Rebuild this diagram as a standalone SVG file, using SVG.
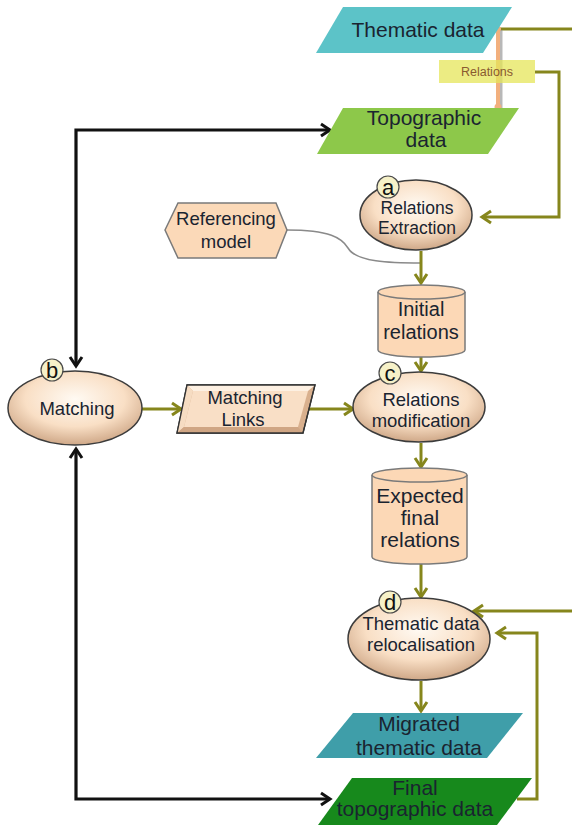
<svg xmlns="http://www.w3.org/2000/svg" width="572" height="825" viewBox="0 0 572 825">
<style>
text{font-family:"Liberation Sans",Arial,sans-serif;text-anchor:middle;fill:#1a2430}
.p{font-size:21px}
.e{font-size:18.5px}
.cy{font-size:21px}
.ol{fill:none;stroke:#86861c;stroke-width:3}
.bk{fill:none;stroke:#111;stroke-width:3.2}
.ell{fill:url(#eg);stroke:#3c3c3c;stroke-width:1.5}
.cyl{fill:#fcd8b6;stroke:#7a7a7a;stroke-width:1.5}
.bdg{fill:#f6f1c8;stroke:#4a4a4a;stroke-width:1.2}
.bt{font-size:22px;fill:#111}
</style>
<defs>
<radialGradient id="eg" cx="50%" cy="38%" r="62%">
<stop offset="0" stop-color="#fffaf3"/>
<stop offset="0.6" stop-color="#f9dfc5"/>
<stop offset="1" stop-color="#cfa888"/>
</radialGradient>
<marker id="ao" markerUnits="userSpaceOnUse" markerWidth="16" markerHeight="16" viewBox="0 0 16 16" refX="13" refY="8" orient="auto">
<path d="M4,2 L13,8 L4,14" fill="none" stroke="#86861c" stroke-width="3"/>
</marker>
<marker id="ab" markerUnits="userSpaceOnUse" markerWidth="16" markerHeight="16" viewBox="0 0 16 16" refX="13" refY="8" orient="auto-start-reverse">
<path d="M4,2 L13,8 L4,14" fill="none" stroke="#111" stroke-width="3"/>
</marker>
</defs>

<g id="connectors">
<path class="bk" d="M330,130 H76 V366" marker-start="url(#ab)" marker-end="url(#ab)"/>
<path class="bk" d="M76,449 V799 H330" marker-start="url(#ab)" marker-end="url(#ab)"/>
<path class="ol" d="M497,29 H572"/>
<path class="ol" d="M535,72 H559 V217 H482" marker-end="url(#ao)"/>
<path d="M287,230 C330,230 342,238 348,248 C356,262 390,263 421,263" fill="none" stroke="#8a8a8a" stroke-width="1.5"/>
<path class="ol" d="M421,251 V283" marker-end="url(#ao)"/>
<path class="ol" d="M421,352 V371" marker-end="url(#ao)"/>
<path class="ol" d="M142,409 H181" marker-end="url(#ao)"/>
<path class="ol" d="M308,409 H353" marker-end="url(#ao)"/>
<path class="ol" d="M421,443 V467" marker-end="url(#ao)"/>
<path class="ol" d="M421,558 V597" marker-end="url(#ao)"/>
<path class="ol" d="M572,611 H474" marker-end="url(#ao)"/>
<path class="ol" d="M517,799 H537 V633 H497" marker-end="url(#ao)"/>
<path class="ol" d="M421,681 V711" marker-end="url(#ao)"/>
<path d="M501,30 V108" stroke="#8a8a8a" stroke-width="3" opacity="0.6"/>
<path d="M498,29 V107" stroke="#f2b07e" stroke-width="4"/>
<circle cx="498" cy="29" r="3" fill="#f2b07e"/>
<circle cx="498" cy="107" r="3.5" fill="#f2b07e"/>
</g>

<g id="thematic">
<polygon points="343,7 512,7 483,53 316,53" fill="#5cc3c8"/>
<text class="p" x="418" y="37">Thematic data</text>
</g>

<g id="relations-label">
<rect x="439" y="60" width="96" height="23" fill="#e6e65a" opacity="0.75"/>
<text x="487" y="76" style="font-size:12.5px;fill:#8a5a30">Relations</text>
</g>

<g id="topographic">
<polygon points="343,108 519,108 488,154 317,154" fill="#8dc84a"/>
<text class="p" x="424" y="125">Topographic</text>
<text class="p" x="426" y="147">data</text>
</g>

<g id="referencing">
<polygon points="165,230 178,203 276,203 287,230 276,258 178,258" fill="#fbd9b8" stroke="#7a7a7a" stroke-width="1.5"/>
<text class="e" x="226" y="225">Referencing</text>
<text class="e" x="226" y="248">model</text>
</g>

<g id="extraction">
<ellipse class="ell" cx="416" cy="215" rx="56" ry="35"/>
<text x="417" y="214" style="font-size:17.5px">Relations</text>
<text x="417" y="234" style="font-size:17.5px">Extraction</text>
<circle class="bdg" cx="388" cy="187" r="11"/>
<text class="bt" x="388" y="195">a</text>
</g>

<g id="initial">
<path class="cyl" d="M378,292 A43.5,7 0 0 1 465,292 V350 A43.5,7 0 0 1 378,350 Z"/>
<path d="M378,292 A43.5,7 0 0 0 465,292" fill="none" stroke="#7a7a7a" stroke-width="1.5"/>
<text x="421" y="316" style="font-size:20px">Initial</text>
<text x="421" y="339" style="font-size:20px">relations</text>
</g>

<g id="matching">
<ellipse class="ell" cx="75" cy="408" rx="67" ry="37"/>
<text class="e" x="77" y="415">Matching</text>
<circle class="bdg" cx="52" cy="370" r="11"/>
<text class="bt" x="52" y="378">b</text>
</g>

<g id="matching-links">
<polygon points="187,385 315,385 303,433 177,433" fill="#d9b08e" stroke="#333" stroke-width="1.3"/>
<polygon points="187,385 315,385 308,391 193,391" fill="#fdf0e2"/>
<polygon points="187,385 193,391 184,427 177,433" fill="#f6dcc2"/>
<polygon points="303,433 177,433 184,427 298,427" fill="#d0a684"/>
<polygon points="193,391 308,391 298,427 184,427" fill="#f9dfc6"/>
<polygon points="187,385 315,385 303,433 177,433" fill="none" stroke="#333" stroke-width="1.3"/>
<text class="e" x="245" y="404">Matching</text>
<text class="e" x="243" y="426">Links</text>
</g>

<g id="modification">
<ellipse class="ell" cx="419" cy="407" rx="66" ry="35"/>
<text class="e" x="421" y="406">Relations</text>
<text class="e" x="421" y="427">modification</text>
<circle class="bdg" cx="390" cy="373" r="11"/>
<text class="bt" x="390" y="381">c</text>
</g>

<g id="expected">
<path class="cyl" d="M372,475 A47.5,7 0 0 1 467,475 V557 A47.5,7 0 0 1 372,557 Z"/>
<path d="M372,475 A47.5,7 0 0 0 467,475" fill="none" stroke="#7a7a7a" stroke-width="1.5"/>
<text class="cy" x="420" y="503">Expected</text>
<text class="cy" x="420" y="525">final</text>
<text class="cy" x="420" y="547">relations</text>
</g>

<g id="relocalisation">
<ellipse class="ell" cx="419" cy="639" rx="71" ry="41"/>
<text class="e" x="421" y="630">Thematic data</text>
<text class="e" x="421" y="651">relocalisation</text>
<circle class="bdg" cx="390" cy="602" r="11"/>
<text class="bt" x="390" y="610">d</text>
</g>

<g id="migrated">
<polygon points="353,713 523,713 487,758 316,758" fill="#3f9ea9"/>
<text class="p" x="419" y="731">Migrated</text>
<text class="p" x="419" y="755">thematic data</text>
</g>

<g id="final">
<polygon points="352,778 532,778 497,825 318,825" fill="#17891c"/>
<text class="p" x="415" y="795">Final</text>
<text class="p" x="415" y="816">topographic data</text>
</g>
</svg>
